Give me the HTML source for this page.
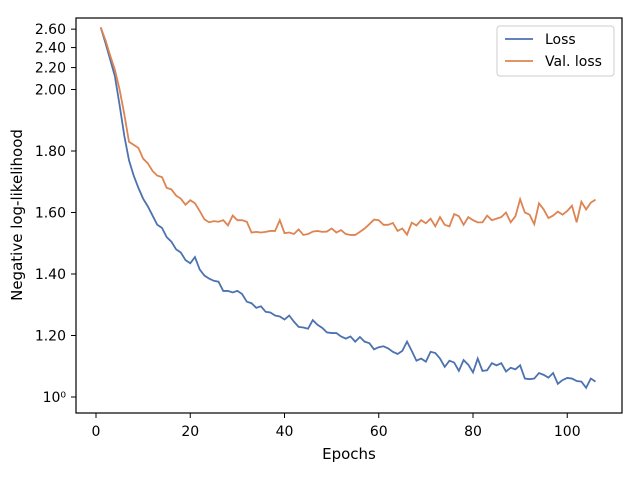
<!DOCTYPE html>
<html><head><meta charset="utf-8"><style>
body{margin:0;background:#fff;}
svg{display:block;font-family:"DejaVu Sans","Liberation Sans",sans-serif;}
</style></head><body>
<svg id="chart" width="640" height="480" xmlns="http://www.w3.org/2000/svg">
<rect x="0" y="0" width="640" height="480" fill="#fff"/>
<g id="grid"></g>
<g id="series"></g>
<rect x="76" y="18" width="546" height="395" fill="none" stroke="#000" stroke-width="1.2"/>
<g id="axes"></g>
<text x="349" y="459" font-size="15" text-anchor="middle">Epochs</text>
<text transform="translate(22,215) rotate(-90)" font-size="15" text-anchor="middle">Negative log-likelihood</text>
<g>
<rect x="497" y="26" width="117" height="50" rx="3" fill="#fff" stroke="#ccc"/>
<line x1="505" y1="39" x2="533" y2="39" stroke="#4c72b0" stroke-width="1.8"/>
<text x="545" y="44" font-size="14">Loss</text>
<line x1="505" y1="61" x2="533" y2="61" stroke="#dd8452" stroke-width="1.8"/>
<text x="545" y="66" font-size="14">Val. loss</text>
</g>
</svg>
<script>
const epochs = Array.from({length:106},(_, i)=>i+1);
const loss = [2.62,2.45,2.28,2.12,1.95,1.85,1.77,1.72,1.68,1.645,1.62,1.59,1.56,1.55,1.52,1.505,1.48,1.47,1.445,1.435,1.455,1.415,1.395,1.385,1.378,1.375,1.345,1.345,1.34,1.345,1.335,1.31,1.305,1.29,1.295,1.277,1.275,1.265,1.262,1.252,1.265,1.245,1.228,1.226,1.222,1.25,1.235,1.225,1.21,1.208,1.208,1.197,1.19,1.197,1.18,1.195,1.18,1.175,1.155,1.162,1.165,1.158,1.147,1.14,1.15,1.18,1.15,1.118,1.125,1.115,1.147,1.143,1.125,1.098,1.118,1.112,1.085,1.12,1.105,1.08,1.125,1.085,1.087,1.11,1.103,1.11,1.083,1.095,1.09,1.103,1.06,1.058,1.06,1.078,1.072,1.063,1.078,1.043,1.055,1.062,1.06,1.052,1.05,1.03,1.06,1.05];
const valLoss = [2.62,2.48,2.32,2.18,2.0,1.92,1.83,1.82,1.81,1.775,1.76,1.735,1.72,1.715,1.68,1.675,1.655,1.645,1.625,1.64,1.63,1.605,1.578,1.568,1.572,1.57,1.575,1.558,1.59,1.575,1.575,1.57,1.535,1.537,1.535,1.537,1.54,1.54,1.575,1.533,1.535,1.53,1.545,1.527,1.53,1.538,1.54,1.537,1.538,1.548,1.535,1.543,1.53,1.527,1.527,1.537,1.548,1.562,1.577,1.575,1.56,1.56,1.566,1.54,1.548,1.528,1.567,1.558,1.575,1.565,1.58,1.555,1.585,1.56,1.555,1.595,1.588,1.56,1.585,1.575,1.568,1.568,1.59,1.575,1.58,1.585,1.6,1.568,1.588,1.643,1.6,1.593,1.562,1.63,1.61,1.582,1.59,1.603,1.593,1.605,1.622,1.568,1.635,1.61,1.632,1.642];
const xTicks = [0,20,40,60,80,100];
const yTicks = [1.0,1.2,1.4,1.6,1.8,2.0,2.2,2.4,2.6];
const yTickLabels = ["10⁰","1.20","1.40","1.60","1.80","2.00","2.20","2.40","2.60"];

const NS="http://www.w3.org/2000/svg";
function xs(v){return 96+(v)*4.7125;}
function ys(v){return v<=2 ? 397-(v-1)*307.5 : 89.5-230*Math.log(v/2);}
const axes=document.getElementById('axes');
xTicks.forEach(t=>{
  const l=document.createElementNS(NS,'line');
  l.setAttribute('x1',xs(t));l.setAttribute('x2',xs(t));l.setAttribute('y1',413);l.setAttribute('y2',418);
  l.setAttribute('stroke','#000');
  
  
  axes.appendChild(l);
  const tx=document.createElementNS(NS,'text');
  tx.setAttribute('x',xs(t));tx.setAttribute('y',436);tx.setAttribute('font-size','14');tx.setAttribute('text-anchor','middle');
  tx.textContent=t;
  
  
  axes.appendChild(tx);
});
yTicks.forEach((t,i)=>{
  const l=document.createElementNS(NS,'line');
  l.setAttribute('x1',71);l.setAttribute('x2',76);l.setAttribute('y1',ys(t));l.setAttribute('y2',ys(t));
  l.setAttribute('stroke','#000');
  
  
  axes.appendChild(l);
  const tx=document.createElementNS(NS,'text');
  tx.setAttribute('x',66);tx.setAttribute('y',ys(t)+5);tx.setAttribute('font-size','14');tx.setAttribute('text-anchor','end');
  tx.textContent=yTickLabels[i];
  
  
  axes.appendChild(tx);
});
const ser=document.getElementById('series');
function line(data,color,name){
  const p=document.createElementNS(NS,'polyline');
  p.setAttribute('points',data.map((v,i)=>xs(epochs[i])+','+ys(v)).join(' '));
  p.setAttribute('fill','none');p.setAttribute('stroke',color);p.setAttribute('stroke-width','1.8');
  
  
  ser.appendChild(p);
}
line(loss,'#4c72b0','loss-line');
line(valLoss,'#dd8452','val-loss-line');
</script>
</body></html>
